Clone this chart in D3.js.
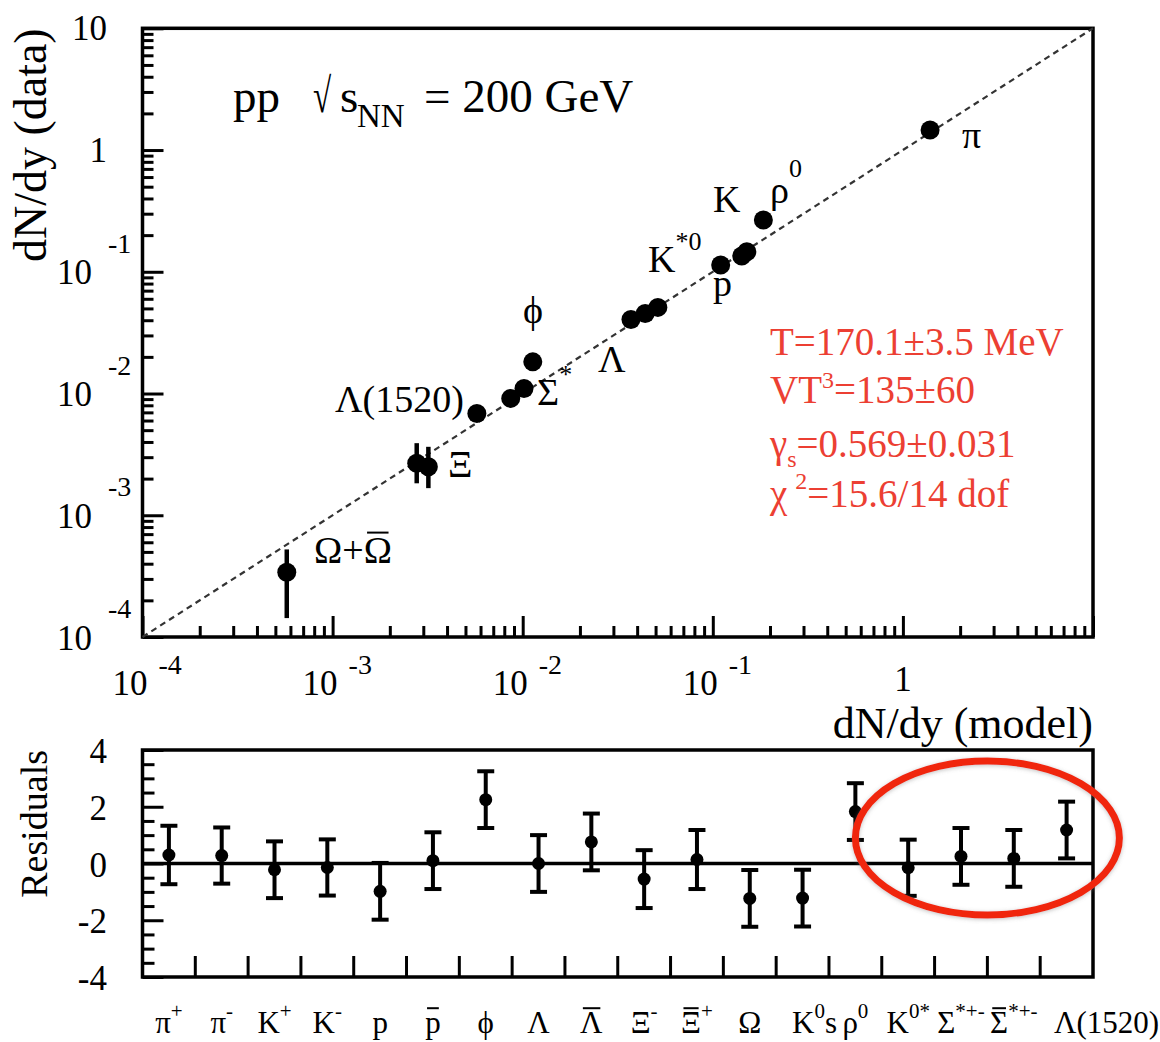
<!DOCTYPE html>
<html>
<head>
<meta charset="utf-8">
<script src="https://cdn.jsdelivr.net/npm/d3@7"></script>
<style>
  html, body { margin: 0; padding: 0; background: #fff; }
  text { font-family: "Liberation Serif", "Times New Roman", "DejaVu Serif", serif; }
</style>
</head>
<body>
<svg id="chart" width="1160" height="1042" font-family="Liberation Serif, Times New Roman, serif"></svg>
<script>
// ---- Yields: thermal-model prediction vs. measured dN/dy (pp, 200 GeV) ----
const particles   = ["pi", "rho0", "K+", "K-", "p", "Lambda", "antiLambda", "K*0", "phi",
                     "Sigma*", "antiSigma*", "Lambda1520", "Xi-", "antiXi+", "Omega"];
const modelYield  = [1.39, 0.1845, 0.151, 0.142, 0.110, 0.0371, 0.0441, 0.0514, 0.0113,
                     0.01016, 0.00865, 0.00574, 0.00277, 0.00319, 0.000574];
const dataYield   = [1.46, 0.266, 0.146, 0.1346, 0.1135, 0.0406, 0.0455, 0.0510, 0.0182,
                     0.01101, 0.00912, 0.00686, 0.00267, 0.00250, 0.000340];
const dataLow     = [null, null, null, null, null, null, null, null, null,
                     null, null, null, 0.00183, 0.00167, 0.000143];
const dataHigh    = [null, null, null, null, null, null, null, null, null,
                     null, null, null, 0.00391, 0.00365, 0.000524];

// ---- Fit residuals (in units of sigma) per species ----
const residualValues = [0.30, 0.28, -0.22, -0.14, -0.98, 0.10, 2.25, 0.00, 0.76,
                        -0.55, 0.14, -1.23, -1.22, 1.83, -0.15, 0.25, 0.18, 1.18];
const residualErrors = [1.03, 0.99, 1.00, 0.99, 1.00, 1.00, 1.00, 1.00, 1.00,
                        1.02, 1.04, 1.00, 1.00, 1.00, 0.99, 1.00, 1.00, 1.00];
const residualLabels = [
  [{t:"π"},{t:"+",sup:1}],
  [{t:"π"},{t:"-",sup:1}],
  [{t:"K"},{t:"+",sup:1}],
  [{t:"K"},{t:"-",sup:1}],
  [{t:"p"}],
  [{t:"p",bar:1}],
  [{t:"ϕ"}],
  [{t:"Λ"}],
  [{t:"Λ",bar:1}],
  [{t:"Ξ"},{t:"-",sup:1}],
  [{t:"Ξ",bar:1},{t:"+",sup:1}],
  [{t:"Ω"}],
  [{t:"K"},{t:"0",sup:1},{t:"s"}],
  [{t:"ρ"},{t:"0",sup:1}],
  [{t:"K"},{t:"0*",sup:1}],
  [{t:"Σ"},{t:"*+-",sup:1}],
  [{t:"Σ",bar:1},{t:"*+-",sup:1}],
  [{t:"Λ(1520)"}]
];

// ---- Axis tick values ----
const logMajorExponents = [-4, -3, -2, -1, 0, 1];
const xLabelExponents   = [-4, -3, -2, -1, 0];
const residualMajor     = [-4, -2, 0, 2, 4];

// ---- Fit parameter box ----
const fitLines = [
  [{t:"T=170.1±3.5 MeV"}],
  [{t:"VT"},{t:"3",sup:1,rise:15,size:24},{t:"=135±60"}],
  [{t:"γ"},{t:"s",sub:1,drop:10,size:24},{t:"=0.569±0.031"}],
  [{t:"χ"},{t:"2",sup:1,rise:18,size:24,dx:8},{t:"=15.6/14 dof"}]
];

// ---- Species annotations in the yield panel ----
const yieldAnnotations = [
  {parts:[{t:"π"}], pos:[962,148]},
  {parts:[{t:"ρ"},{t:"0",sup:1,rise:26}], pos:[770,203]},
  {parts:[{t:"K"}], pos:[713,212]},
  {parts:[{t:"K"},{t:"*0",sup:1,rise:22}], pos:[648,272]},
  {parts:[{t:"p"}], pos:[713,296]},
  {parts:[{t:"ϕ"}], pos:[523,323]},
  {parts:[{t:"Σ"},{t:"*",sup:1,rise:22}], pos:[537,405]},
  {parts:[{t:"Λ"}], pos:[598,372]},
  {parts:[{t:"Λ(1520)"}], pos:[335,412]},
  {parts:[{t:"Ξ"}], pos:[448,477]},
  {parts:[{t:"Ω+"},{t:"Ω",bar:1}], pos:[314,563]}
];

// ---- Layout ----
const X0 = 142.5, X1 = 1093;
const TY0 = 28.3, TY1 = 637;
const RY0 = 750, RY1 = 977;
const FRAME_W = 3.5;
// horizontal nudges of a few category labels from their bin centres
const labelNudge = {12: 12, 17: 40};

const svg = d3.select("#chart");

const x = d3.scaleLog().domain([1e-4, 10]).range([X0, X1]);
const y = d3.scaleLog().domain([1e-4, 10]).range([TY1, TY0]);
const yR = d3.scaleLinear().domain([-4, 4]).range([RY1, RY0]);
const xR = d3.scaleBand().domain(d3.range(residualValues.length)).range([X0, X1]).padding(0);

// Text with super/subscripts and overbars built from tspans
function richText(parent, px, py, parts, o) {
  const size = o.size;
  const t = parent.append("text")
    .attr("x", px).attr("y", py)
    .attr("font-size", size)
    .attr("text-anchor", o.anchor || "start")
    .attr("fill", o.fill || "#000");
  let shift = 0;
  const bars = [];
  parts.forEach(p => {
    const ps = (p.sup || p.sub) ? (p.size || o.scriptSize || Math.round(size * 0.66)) : size;
    const target = p.sup ? -(p.rise != null ? p.rise : (o.rise != null ? o.rise : size * 0.45))
                 : p.sub ? (p.drop != null ? p.drop : size * 0.3) : 0;
    const ts = t.append("tspan").attr("dy", target - shift).text(p.t);
    if (p.dx) ts.attr("dx", p.dx);
    if (ps !== size) ts.attr("font-size", ps);
    shift = target;
    if (p.bar) bars.push({node: ts.node(), base: py + target, size: ps});
  });
  bars.forEach(b => {
    const bb = b.node.getBBox();
    const inset = bb.width * 0.12;
    parent.append("line")
      .attr("x1", bb.x + inset).attr("x2", bb.x + bb.width - inset)
      .attr("y1", b.base - 0.8 * b.size).attr("y2", b.base - 0.8 * b.size)
      .attr("stroke", o.fill || "#000").attr("stroke-width", 2);
  });
  return t;
}

function styleTicks(g) {
  g.select(".domain").remove();
  g.selectAll(".tick line").attr("stroke", "#000").attr("stroke-width", 3);
}

// ================= Upper panel: yields =================
const upper = svg.append("g");

const minorLog = [];
logMajorExponents.slice(0, -1).forEach(e => {
  for (let k = 2; k <= 9; k++) minorLog.push(+(k * Math.pow(10, e)).toPrecision(3));
});
const majorLog = logMajorExponents.map(e => Math.pow(10, e));

// bottom (x) ticks pointing inward
upper.append("g").attr("transform", `translate(0,${TY1})`)
  .call(d3.axisTop(x).tickValues(minorLog).tickSize(11).tickFormat(""))
  .call(styleTicks);
upper.append("g").attr("transform", `translate(0,${TY1})`)
  .call(d3.axisTop(x).tickValues(majorLog).tickSize(21).tickFormat(""))
  .call(styleTicks);
// left (y) ticks pointing inward
upper.append("g").attr("transform", `translate(${X0},0)`)
  .call(d3.axisRight(y).tickValues(minorLog).tickSize(11).tickFormat(""))
  .call(styleTicks);
upper.append("g").attr("transform", `translate(${X0},0)`)
  .call(d3.axisRight(y).tickValues(majorLog).tickSize(21).tickFormat(""))
  .call(styleTicks);

// frame
upper.append("rect")
  .attr("x", X0).attr("y", TY0).attr("width", X1 - X0).attr("height", TY1 - TY0)
  .attr("fill", "none").attr("stroke", "#000").attr("stroke-width", FRAME_W);

// y tick labels
logMajorExponents.forEach(e => {
  const ty = y(Math.pow(10, e));
  if (e === 1 || e === 0) {
    upper.append("text").attr("x", 107).attr("y", ty + 12)
      .attr("font-size", 35).attr("text-anchor", "end").text(e === 1 ? "10" : "1");
  } else {
    upper.append("text").attr("x", 92).attr("y", ty + 12.5)
      .attr("font-size", 35).attr("text-anchor", "end").text("10");
    upper.append("text").attr("x", 108).attr("y", ty - 19)
      .attr("font-size", 28).attr("text-anchor", "start").text(String(e));
  }
});

// x tick labels
xLabelExponents.forEach(e => {
  const tx = x(Math.pow(10, e));
  if (e === 0) {
    upper.append("text").attr("x", tx).attr("y", 691)
      .attr("font-size", 35).attr("text-anchor", "middle").text("1");
  } else {
    upper.append("text").attr("x", tx - 12.5).attr("y", 695)
      .attr("font-size", 35).attr("text-anchor", "middle").text("10");
    upper.append("text").attr("x", tx + 16).attr("y", 674)
      .attr("font-size", 28).attr("text-anchor", "start").text(String(e));
  }
});

// axis titles
upper.append("text")
  .attr("transform", `translate(46,${TY0}) rotate(-90)`)
  .attr("font-size", 46).attr("text-anchor", "end").text("dN/dy (data)");
upper.append("text")
  .attr("x", X1).attr("y", 738)
  .attr("font-size", 44).attr("text-anchor", "end").text("dN/dy (model)");

// title
upper.append("text").attr("x", 233).attr("y", 112).attr("font-size", 47).text("pp");
upper.append("text").attr("transform", "translate(313,112) scale(0.72,1.05)")
  .attr("font-size", 46).text("√");
upper.append("text").attr("x", 340).attr("y", 112).attr("font-size", 47).text("s");
upper.append("text").attr("x", 357).attr("y", 127).attr("font-size", 33).text("NN");
upper.append("text").attr("x", 424).attr("y", 112).attr("font-size", 47).text("= 200 GeV");

// y = x reference line
const dLo = x.domain()[0], dHi = x.domain()[1];
upper.append("line")
  .attr("x1", x(dLo)).attr("y1", y(dLo)).attr("x2", x(dHi)).attr("y2", y(dHi))
  .attr("stroke", "#333").attr("stroke-width", 2.2).attr("stroke-dasharray", "6,4.5");

// points
const yieldRows = particles.map((n, i) => ({
  name: n, m: modelYield[i], d: dataYield[i], lo: dataLow[i], hi: dataHigh[i]
}));
upper.selectAll("line.err").data(yieldRows.filter(r => r.lo != null)).join("line")
  .attr("class", "err")
  .attr("x1", r => x(r.m)).attr("x2", r => x(r.m))
  .attr("y1", r => y(r.hi)).attr("y2", r => y(r.lo))
  .attr("stroke", "#000").attr("stroke-width", 4.5);
upper.selectAll("circle.pt").data(yieldRows).join("circle")
  .attr("class", "pt")
  .attr("cx", r => x(r.m)).attr("cy", r => y(r.d)).attr("r", 9.5)
  .attr("fill", "#000");

// species annotations
yieldAnnotations.forEach(a => {
  richText(upper, a.pos[0], a.pos[1], a.parts, {size: 38, scriptSize: 26});
});

// fit parameters
const fitBaselines = [355, 403, 457, 507];
fitLines.forEach((parts, i) => {
  richText(upper, 770, fitBaselines[i], parts, {size: 39, fill: "#ec3f33"});
});

// ================= Lower panel: residuals =================
const lower = svg.append("g");

const resMinor = d3.range(-4, 4.01, 0.5).filter(v => !residualMajor.includes(v));
lower.append("g").attr("transform", `translate(${X0},0)`)
  .call(d3.axisRight(yR).tickValues(resMinor).tickSize(12).tickFormat(""))
  .call(styleTicks);
lower.append("g").attr("transform", `translate(${X0},0)`)
  .call(d3.axisRight(yR).tickValues(residualMajor).tickSize(21).tickFormat(""))
  .call(styleTicks);

// bin-edge ticks along the bottom
lower.selectAll("line.bin").data(d3.range(1, residualValues.length)).join("line")
  .attr("class", "bin")
  .attr("x1", i => xR(i)).attr("x2", i => xR(i))
  .attr("y1", RY1).attr("y2", RY1 - 21)
  .attr("stroke", "#000").attr("stroke-width", 3);

lower.append("rect")
  .attr("x", X0).attr("y", RY0).attr("width", X1 - X0).attr("height", RY1 - RY0)
  .attr("fill", "none").attr("stroke", "#000").attr("stroke-width", FRAME_W);

// zero line
lower.append("line")
  .attr("x1", X0).attr("x2", X1).attr("y1", yR(0)).attr("y2", yR(0))
  .attr("stroke", "#000").attr("stroke-width", 3.5);

// y labels
residualMajor.forEach(v => {
  lower.append("text").attr("x", 107).attr("y", yR(v) + 13)
    .attr("font-size", 35).attr("text-anchor", "end").text(String(v));
});
lower.append("text")
  .attr("transform", `translate(47,${RY0}) rotate(-90)`)
  .attr("font-size", 38).attr("text-anchor", "end").text("Residuals");

// residual points with error bars
const resRows = residualValues.map((v, i) => ({i, v, e: residualErrors[i]}));
const cx = r => xR(r.i) + xR.bandwidth() / 2;
const eb = lower.selectAll("g.res").data(resRows).join("g").attr("class", "res");
eb.append("line")
  .attr("x1", cx).attr("x2", cx)
  .attr("y1", r => yR(r.v + r.e)).attr("y2", r => yR(r.v - r.e))
  .attr("stroke", "#000").attr("stroke-width", 4);
[1, -1].forEach(s => {
  eb.append("line")
    .attr("x1", r => cx(r) - 8.5).attr("x2", r => cx(r) + 8.5)
    .attr("y1", r => yR(r.v + s * r.e)).attr("y2", r => yR(r.v + s * r.e))
    .attr("stroke", "#000").attr("stroke-width", 4);
});
eb.append("circle")
  .attr("cx", cx).attr("cy", r => yR(r.v)).attr("r", 6.5).attr("fill", "#000");

// category labels
residualLabels.forEach((parts, i) => {
  richText(lower, xR(i) + xR.bandwidth() / 2 + (labelNudge[i] || 0), 1033, parts,
           {size: 31, scriptSize: 21, rise: 15, anchor: "middle"});
});

// highlight around the last four species
const defs = svg.append("defs");
const f = defs.append("filter").attr("id", "soft").attr("x", "-10%").attr("y", "-10%")
  .attr("width", "120%").attr("height", "120%");
f.append("feDropShadow").attr("dx", 0).attr("dy", 1).attr("stdDeviation", 2)
  .attr("flood-color", "#777").attr("flood-opacity", 0.45);
const hlFirst = 14, hlLast = 17;
const hlCx = (xR(hlFirst) + xR(hlLast) + xR.bandwidth()) / 2;
svg.append("ellipse")
  .attr("cx", hlCx).attr("cy", 838).attr("rx", 132).attr("ry", 77)
  .attr("fill", "none").attr("stroke", "#f0280e").attr("stroke-width", 7)
  .attr("filter", "url(#soft)");
</script>
</body>
</html>
